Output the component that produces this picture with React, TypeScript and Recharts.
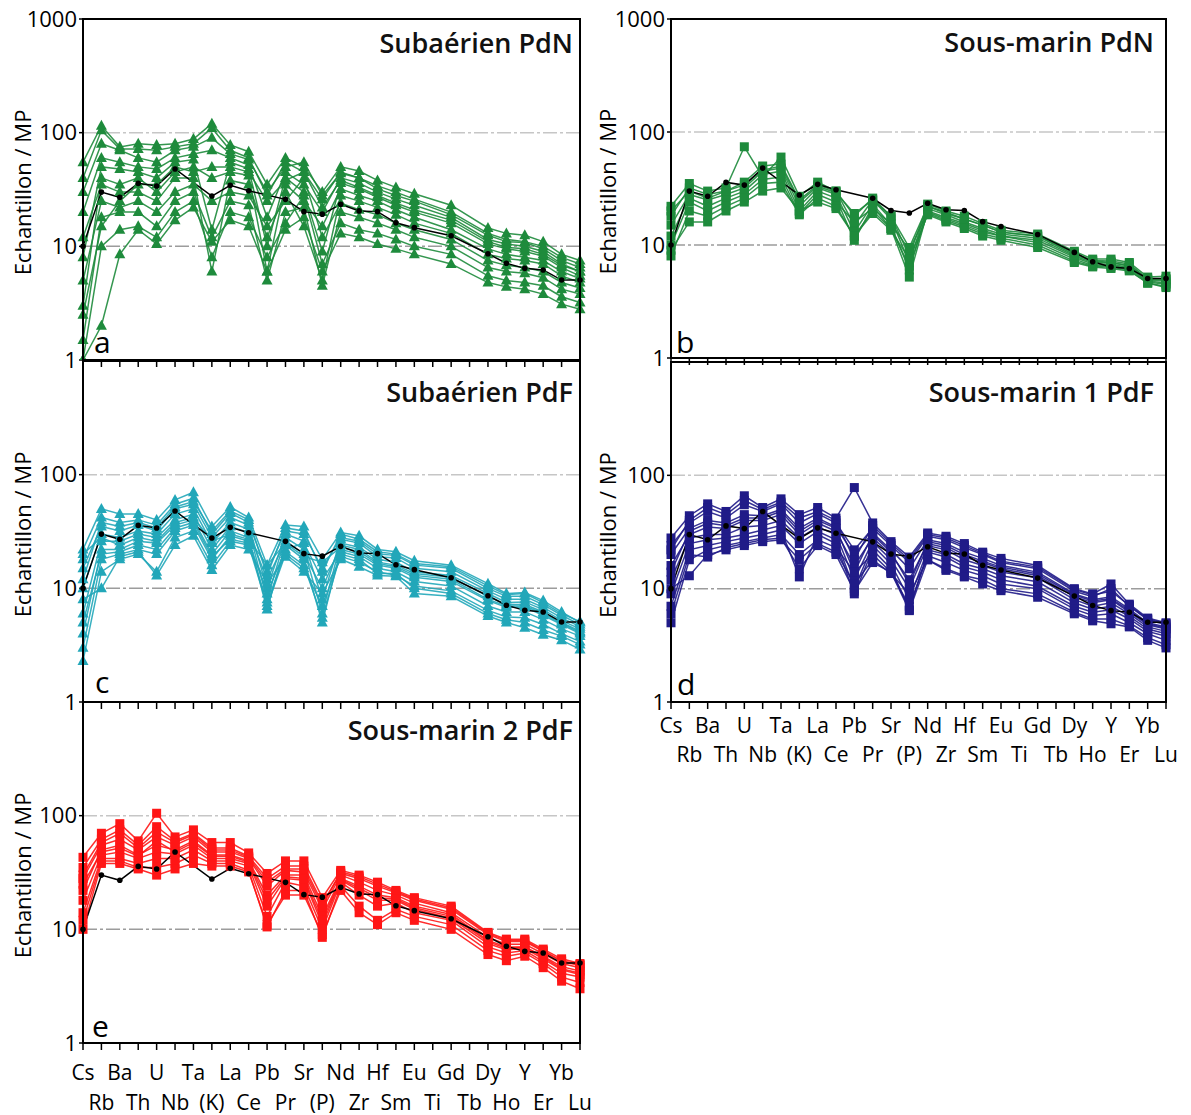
import React from 'react';
import { LineChart, Line, XAxis, YAxis, ReferenceLine } from 'recharts';

const FONT = "'Open Sans', 'Noto Sans', sans-serif";

const elements = ['Cs','Rb','Ba','Th','U','Nb','Ta','(K)','La','Ce','Pb','Pr','Sr','(P)','Nd','Zr','Hf','Sm','Eu','Ti','Gd','Tb','Dy','Ho','Y','Er','Yb','Lu'];

// black reference pattern (same in every panel)
const reference = [10,30,27,35.8,33.9,47.9,null,27.7,34.4,30.8,null,25.9,20.2,19.2,23.4,20.5,20.2,16.1,14.6,null,12.4,null,8.6,7.1,6.4,6.2,5.05,5.05];

// a — Subaérien PdN
const subaerienPdN = [
  [55,115,75,80,78,80,88,120,78,68,35,60,50,30,50,46,38,33,29,null,23,null,14.5,13,12.5,11,8.5,7.5],
  [40,105,72,72,70,75,80,110,70,60,28,55,45,26,45,40,34,30,26,null,20,null,13,11.5,11,10,8,7],
  [20,60,55,50,48,60,65,70,60,52,18,45,35,20,40,36,30,26,23,null,18,null,11.5,10.5,10,9,7,6],
  [8,50,48,45,40,55,58,14,55,48,10,40,30,9,36,32,27,23,20,null,16,null,10.5,9.5,9,8.2,6.5,5.5],
  [3,40,35,40,30,45,50,40,45,42,6,35,25,15,32,28,25,21,18,null,14,null,9.5,8.5,8,7.5,6,5.2],
  [12,35,30,30,25,40,40,6,38,35,12,30,15,5,28,25,22,19,16,null,13,null,8.5,7.8,7.5,7,5.5,4.8],
  [5,25,22,25,20,30,35,25,30,28,15,25,40,12,24,21,19,16,14,null,11.5,null,7.5,6.8,6.5,6,4.8,4.3],
  [1.5,18,20,20,15,25,30,12,25,23,5,20,22,4.5,20,18,16,14,12,null,10,null,6.5,6,5.8,5.3,4.2,3.8],
  [1,10,14,15,12,20,25,8,20,18,8,16,28,7,16,14,13,11.5,10,null,8.5,null,5.5,5,4.8,4.5,3.6,3.2],
  [1,2,8.5,14,10.5,17,22,11,17,15,6,14,18,6,13,12,10.5,9.5,8.5,null,7,null,4.8,4.4,4.2,3.8,3.1,2.8],
  [2.5,15,25,35,35,50,45,50,50,45,25,38,45,22,38,33,28,24,21,null,17,null,11,9.8,9.5,8.5,6.8,6],
  [30,80,70,60,55,70,75,90,65,58,30,50,55,28,44,40,32,28,25,null,19,null,12.5,11,10.8,9.5,7.5,6.5],
];

// b — Sous-marin PdN
const sousMarinPdN = [
  [22,35,30,32,74,40,60,27,36,30,18,26,18,8,23,20,18,15.5,13.5,null,12.5,null,8.8,7.5,7.5,7,5.2,5.3],
  [18,32,28,30,36,50,52,25,34,30,15,25,17,7,22,19.5,17,15,13,null,12,null,8.5,7.3,7.2,6.8,5,5],
  [15,28,25,28,32,45,48,22,32,28,13,23,15,6,21,18.5,16,14,12.5,null,11.5,null,8,7,7,6.5,4.9,4.8],
  [12,26,22,26,30,42,45,20,30,26,11,22,14,5.2,20,17.5,15.5,13.5,12,null,11,null,7.8,6.8,6.8,6.3,4.8,4.6],
  [10,24,20,24,28,38,40,19,28,24,16,21,15.5,9,19.5,17,15,13,12,null,10.5,null,7.5,6.6,6.6,6.2,4.7,4.5],
  [8,20,18,22,26,35,36,18.5,26,22,12,20,14,6.5,19,16.5,14.5,12.5,11.5,null,10,null,7.2,6.5,6.4,6,4.6,4.3],
  [9,16,16,20,24,30,32,20,24,21,12,19,13.5,7.5,18.5,16,14,12,11,null,9.5,null,7,6.4,6.2,5.9,4.6,4.2],
  [20,30,26,30,34,46,50,24,33,29,19,25,18,9.5,22,19,17,15,13,null,12,null,8.2,7.2,7,6.6,5,5],
];

// c — Subaérien PdF
const subaerienPdF = [
  [22,50,45,45,40,60,70,35,52,42,16,36,35,18,31,29,22,21,17.5,null,16,null,11,9,9.2,7.8,6.2,5],
  [18,42,38,40,36,55,62,30,46,38,14,32,30,15,28,26,20,19.5,16,null,15,null,10,8.5,8.5,7.2,5.8,4.8],
  [15,35,32,36,32,50,55,28,42,36,10,30,26,8,27,25,19,18.5,15,null,14,null,9.5,8,8,6.8,5.5,4.6],
  [10,30,28,32,30,45,50,25,38,33,8,28,22,6,25,23,18,17,14,null,13,null,9,7.5,7.6,6.5,5.2,4.4],
  [6,26,26,30,28,40,45,22,35,31,12,26,20,10,24,22,17,16,13.5,null,12.5,null,8.5,7.2,7.2,6.2,5,4.2],
  [4,22,22,26,25,36,40,20,32,28,6.5,24,18,5,22,20,16,15,12.5,null,11.5,null,7.8,6.8,6.8,5.8,4.8,4],
  [3,18,20,22,20,32,36,18,29,26,9,22,25,12,21,19,15,14,11.5,null,10.5,null,7,6.2,6.2,5.3,4.4,3.8],
  [2.3,14,18,20,14,28,32,16,26,24,7,20,15,7,19,17,14,13,10.5,null,9.5,null,6.4,5.6,5.5,4.8,4,3.4],
  [8,10,19,21,13,24,29,14.5,24,22,11,19,14,9,18,15.5,13,12.8,9,null,8.5,null,5.7,5,4.5,3.9,3.5,2.9],
  [12,38,35,38,34,52,58,32,48,40,13,34,32,14,30,27,21,20,16.5,null,15.5,null,10.5,8.8,9,7.5,6,5.1],
  [20,28,24,28,26,38,42,26,30,27,16,25,19,17,23,21,16.5,15.5,13,null,12,null,8,7,7,6,4.9,4.1],
  [5,20,21,24,22,34,38,19,27,25,7.5,21,16,5.5,20,18,13.5,13.5,10,null,9,null,6,5.3,5,4.3,3.8,3.2],
];

// d — Sous-marin 1 PdF
const sousMarin1PdF = [
  [28,44,56,48,66,52,62,45,52,42,78,38,26,19,31,29,25,21,18.5,null,16,null,10,9,11,7.3,5.5,5],
  [24,38,48,42,55,48,56,38,46,38,22,34,24,17,29,27,23,20,17,null,15,null,9.5,8.5,10,7,5.3,4.8],
  [20,34,40,38,45,44,50,34,42,35,20,31,22,15,27,25,21,18.5,16,null,14,null,9,8,8.5,6.6,5,4.6],
  [16,30,35,34,40,40,45,30,38,32,16,28,20,12,25,23,19,17,15,null,13,null,8.5,7.5,8,6.2,4.8,4.4],
  [12,28,30,30,35,36,40,28,35,30,12,26,18,10,24,22,18,16,14,null,12.5,null,8,7,7.5,6,4.6,4.2],
  [9,25,27,28,30,33,36,25,32,27,10,24,16.5,8,22,20,16.5,15,13,null,11.5,null,7.5,6.6,7,5.7,4.4,4],
  [7,22,24,26,28,30,33,12.7,30,25,9,22,15,6.5,21,19,15.5,14,12,null,10.5,null,7,6.2,6.5,5.4,4.2,3.8],
  [5,18,22,24,26,28,30,20,27,23,14,20,14,7,19.5,17,14.5,13,11,null,10,null,6.6,5.8,6,5,4,3.5],
  [10,13,20,22,24,26,27,18,25,21,11,18,13.6,9,18,15,13,12,10,null,9,null,6.2,5.4,5.4,4.7,3.7,3.2],
  [22,40,52,45,60,50,58,42,48,40,18,36,25,18,30,28,24,20.5,17.5,null,15.5,null,9.8,8.8,9.5,7.1,5.4,4.9],
  [14,32,38,36,42,42,48,32,40,34,14,30,21,11,26,24,20,17.5,15.5,null,13.5,null,8.8,7.8,8.2,6.4,4.9,4.5],
  [6,20,19,23,25,27,28,15,24,20,9.5,17,14,6.4,18,14.5,12.7,11,9.6,null,8.4,null,6,5.2,4.9,4.6,3.5,3],
];

// e — Sous-marin 2 PdF
const sousMarin2PdF = [
  [43,70,85,60,105,65,75,58,58,47,31,40,40,19,33,30,26,22,19,null,16,null,9.4,8.2,8.2,6.7,5.5,5],
  [35,62,75,55,80,60,70,52,52,44,28,36,36,17,31,28,24,21,18,null,15,null,9,7.8,7.8,6.4,5.2,4.8],
  [28,55,62,50,65,55,65,48,48,42,24,33,32,15,30,26,22,20,17,null,14,null,8.5,7.4,7.4,6.1,5,4.6],
  [22,50,55,45,55,50,60,45,45,40,20,30,30,13,28,24,20,19,16,null,13.5,null,8,7,7,5.8,4.7,4.3],
  [18,45,48,42,48,46,55,42,42,38,16,28,27,11,27,22,18,18,15,null,12.5,null,7.5,6.6,6.8,5.5,4.4,4],
  [14,42,42,38,42,42,50,40,40,36,13,26,24,10,26,20,16,17,14,null,12,null,7,6.2,6.5,5.2,4.1,3.8],
  [12,40,40,35,35,38,45,38,38,33,10.5,22,22,8.5,24,16,12,15,13,null,11,null,6.5,5.8,6.2,5,3.8,3.4],
  [10,38,38,34,30,34,38,36,36,32,11,20,20,9,22,14,11,14,12,null,10,null,6,5.3,5.8,4.6,3.5,3],
  [30,58,70,52,72,58,68,50,50,43,26,34,34,16,32,29,25,21.5,18.5,null,15.5,null,9.2,8,8,6.5,5.3,4.9],
  [25,48,52,44,60,48,58,44,44,39,18,29,28,12,27.5,23,19,18.5,15.5,null,13,null,7.8,6.8,7,5.7,4.5,4.1],
];

const GREEN = '#1e8b3c';
const CYAN = '#22a7b9';
const NAVY = '#201b88';
const RED = '#ff1616';

const YW = 83;
const PAD = 20;
const XH = 75;

type Geom = { L: number; T: number; W: number; H: number };

function makeDot(color: string, shape: 'tri' | 'sq') {
  return (props: any) => {
    const { cx, cy, value, index } = props;
    const k = 'd' + index;
    if (cx == null || cy == null || value == null || isNaN(cx) || isNaN(cy)) return <g key={k} />;
    if (shape === 'tri') {
      return <polygon key={k} points={`${cx},${cy - 6} ${cx - 5.5},${cy + 4} ${cx + 5.5},${cy + 4}`} fill={color} />;
    }
    return <rect key={k} x={cx - 4.5} y={cy - 4.5} width={9} height={9} fill={color} />;
  };
}

function Panel(props: {
  geom: Geom; samples: (number | null)[][]; color: string; shape: 'tri' | 'sq';
  showLabels: boolean; d1: number; d2: number; yTicks: number[];
}) {
  const { geom, samples, color, shape, showLabels, d1, d2, yTicks } = props;
  const { L, T, W, H } = geom;
  const data = elements.map((el, i) => {
    const row: any = { el, ref: reference[i] };
    samples.forEach((s, j) => { row['s' + j] = s[i]; });
    return row;
  });
  const plotBottom = PAD + H;
  const dot = makeDot(color, shape);
  const xTick = (p: any) => {
    if (!showLabels) return <g />;
    const i = p.index;
    const yy = plotBottom + (i % 2 === 0 ? d1 : d2);
    return (
      <text x={p.x} y={yy} textAnchor="middle" dominantBaseline="central" fontSize={21} fontFamily={FONT} fill="#000">
        {p.payload.value}
      </text>
    );
  };
  return (
    <div style={{ position: 'absolute', left: L - YW, top: T - PAD }}>
      <LineChart width={YW + W + PAD} height={PAD + H + XH} data={data} margin={{ top: PAD, right: PAD, bottom: 0, left: 0 }}>
        <XAxis dataKey="el" interval={0} tickSize={7} height={XH}
          axisLine={{ stroke: '#000', strokeWidth: 2 }} tickLine={{ stroke: '#000', strokeWidth: 1.5 }} tick={xTick} />
        <YAxis type="number" scale="log" domain={[1, 1000]} ticks={yTicks} allowDataOverflow width={YW}
          interval={0} tickSize={4} tickMargin={2}
          axisLine={{ stroke: '#000', strokeWidth: 2 }} tickLine={{ stroke: '#000', strokeWidth: 1.5 }}
          tick={{ fontSize: 22, fill: '#000', fontFamily: FONT }} />
        <ReferenceLine y={100} stroke="#c6c6c6" strokeWidth={1.5} strokeDasharray="14 3 3 3" />
        <ReferenceLine y={10} stroke="#9c9c9c" strokeWidth={1.5} strokeDasharray="14 3 3 3" />
        {samples.map((_, j) => (
          <Line key={j} dataKey={'s' + j} stroke={color} strokeWidth={1.5} strokeOpacity={0.9}
            dot={dot} activeDot={false} connectNulls isAnimationActive={false} />
        ))}
        <Line dataKey="ref" stroke="#000" strokeWidth={1.5} dot={{ r: 2.8, fill: '#000', stroke: '#000', strokeWidth: 0 }}
          activeDot={false} connectNulls isAnimationActive={false} />
      </LineChart>
    </div>
  );
}

const panels = [
  { key: 'a', geom: { L: 83, T: 19, W: 497, H: 341 }, samples: subaerienPdN, color: GREEN, shape: 'tri' as const, title: 'Subaérien PdN', showLabels: false, d1: 0, d2: 0, yTicks: [1, 10, 100, 1000], letterPos: [94, 353], titlePos: [573, 53], ylx: 22 },
  { key: 'b', geom: { L: 671, T: 19, W: 495, H: 339 }, samples: sousMarinPdN, color: GREEN, shape: 'sq' as const, title: 'Sous-marin PdN', showLabels: false, d1: 0, d2: 0, yTicks: [1, 10, 100, 1000], letterPos: [676, 353], titlePos: [1154, 52], ylx: 607 },
  { key: 'c', geom: { L: 83, T: 361, W: 497, H: 341 }, samples: subaerienPdF, color: CYAN, shape: 'tri' as const, title: 'Subaérien PdF', showLabels: false, d1: 0, d2: 0, yTicks: [1, 10, 100], letterPos: [95, 693], titlePos: [573, 402], ylx: 22 },
  { key: 'd', geom: { L: 671, T: 362, W: 495, H: 340 }, samples: sousMarin1PdF, color: NAVY, shape: 'sq' as const, title: 'Sous-marin 1 PdF', showLabels: true, d1: 23, d2: 52, yTicks: [1, 10, 100], letterPos: [677, 695], titlePos: [1154, 402], ylx: 607 },
  { key: 'e', geom: { L: 83, T: 702, W: 497, H: 341 }, samples: sousMarin2PdF, color: RED, shape: 'sq' as const, title: 'Sous-marin 2 PdF', showLabels: true, d1: 29, d2: 59, yTicks: [1, 10, 100], letterPos: [92, 1037], titlePos: [573, 740], ylx: 22 },
];

export default function App() {
  return (
    <div style={{ position: 'absolute', left: 0, top: 0, width: 1191, height: 1115, background: '#fff', fontFamily: FONT }}>
      {panels.map((p) => (
        <Panel key={p.key} geom={p.geom} samples={p.samples} color={p.color} shape={p.shape}
          showLabels={p.showLabels} d1={p.d1} d2={p.d2} yTicks={p.yTicks} />
      ))}
      <svg width={1191} height={1115} style={{ position: 'absolute', left: 0, top: 0, pointerEvents: 'none' }}>
        {panels.map((p) => {
          const { L, T, W, H } = p.geom;
          const cy = T + H / 2 + 3;
          return (
            <g key={p.key}>
              <rect x={L} y={T} width={W} height={H} fill="none" stroke="#000" strokeWidth={2} />
              <text x={p.titlePos[0]} y={p.titlePos[1]} textAnchor="end" fontSize={27} fontWeight={600} fontFamily={FONT} fill="#111">{p.title}</text>
              <text x={p.letterPos[0]} y={p.letterPos[1]} fontSize={30} fontFamily={FONT} fill="#000">{p.key}</text>
              <text x={p.ylx} y={cy} transform={`rotate(-90, ${p.ylx}, ${cy})`} textAnchor="middle" dominantBaseline="central" fontSize={22} fontFamily={FONT} fill="#000">Echantillon / MP</text>
            </g>
          );
        })}
      </svg>
    </div>
  );
}
